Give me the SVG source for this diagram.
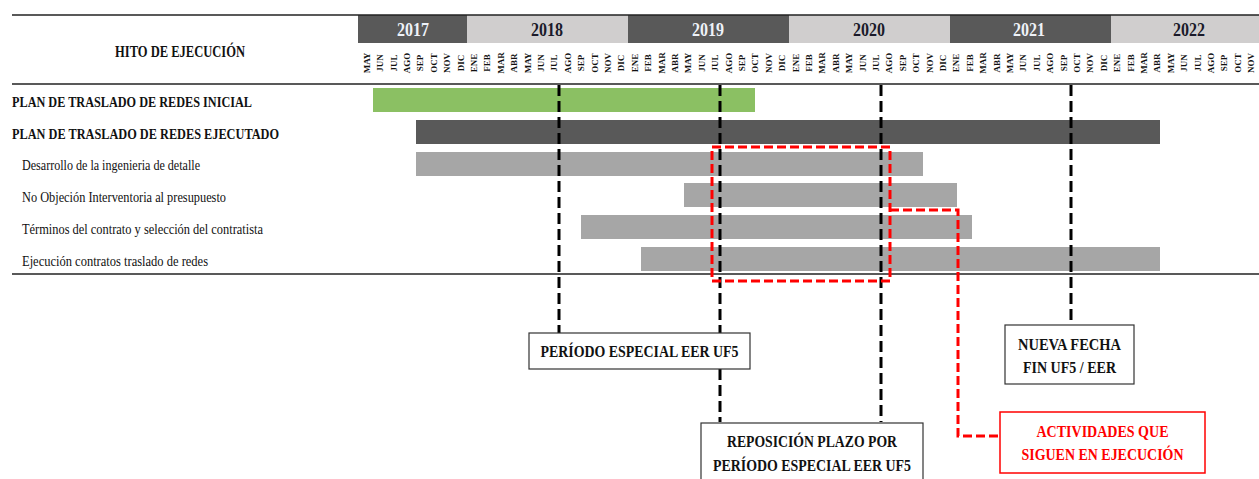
<svg xmlns="http://www.w3.org/2000/svg" width="1259" height="479" viewBox="0 0 1259 479">
<style>
text{font-family:"Liberation Serif","Times New Roman",serif;fill:#111}
.b{font-weight:bold}
.yr{font-size:19px;font-weight:bold;text-anchor:middle}
.yl{fill:#eef2f8}
.yd{fill:#1a1a2a}
.m{font-size:9px;font-weight:bold;text-anchor:middle;dominant-baseline:central}
.hl{stroke:#222;stroke-width:1.5;fill:none}
.lbl{font-size:14px}
.plan{font-size:15px;font-weight:bold}
.box{fill:#fff;stroke:#333;stroke-width:1.2}
.bt{font-size:17px;font-weight:bold;text-anchor:middle}
.kd{stroke:#000;stroke-width:3;stroke-dasharray:11 5;fill:none}
.rd{stroke:#ff0000;stroke-width:3;stroke-dasharray:9 4;fill:none}
.gray{fill:#a6a6a6}
.red{fill:#ff0000}
</style>
<rect width="1259" height="479" fill="#fff"/>
<g id="header">
<rect x="360" y="15" width="107" height="28" fill="#595959"/>
<rect x="467" y="15" width="161" height="28" fill="#d0cece"/>
<rect x="628" y="15" width="161" height="28" fill="#595959"/>
<rect x="789" y="15" width="161" height="28" fill="#d0cece"/>
<rect x="950" y="15" width="161" height="28" fill="#595959"/>
<rect x="1111" y="15" width="160" height="28" fill="#d0cece"/>
<text class="yr yl" x="413" y="36" textLength="32" lengthAdjust="spacingAndGlyphs">2017</text>
<text class="yr yd" x="547" y="36" textLength="32" lengthAdjust="spacingAndGlyphs">2018</text>
<text class="yr yl" x="708" y="36" textLength="32" lengthAdjust="spacingAndGlyphs">2019</text>
<text class="yr yd" x="869" y="36" textLength="32" lengthAdjust="spacingAndGlyphs">2020</text>
<text class="yr yl" x="1029" y="36" textLength="32" lengthAdjust="spacingAndGlyphs">2021</text>
<text class="yr yd" x="1189" y="36" textLength="32" lengthAdjust="spacingAndGlyphs">2022</text>
<line class="hl" x1="12" y1="15" x2="1259" y2="15"/>
<line class="hl" x1="359" y1="15" x2="359" y2="43"/>
<line class="hl" x1="12" y1="84" x2="1259" y2="84"/>
<text class="b" x="180" y="57" font-size="16" text-anchor="middle" textLength="130" lengthAdjust="spacingAndGlyphs">HITO DE EJECUCIÓN</text>
<g id="months">
<text class="m" transform="translate(366.7,63) rotate(-90)">MAY</text>
<text class="m" transform="translate(380.1,63) rotate(-90)">JUN</text>
<text class="m" transform="translate(393.5,63) rotate(-90)">JUL</text>
<text class="m" transform="translate(406.9,63) rotate(-90)">AGO</text>
<text class="m" transform="translate(420.3,63) rotate(-90)">SEP</text>
<text class="m" transform="translate(433.7,63) rotate(-90)">OCT</text>
<text class="m" transform="translate(447.1,63) rotate(-90)">NOV</text>
<text class="m" transform="translate(460.5,63) rotate(-90)">DIC</text>
<text class="m" transform="translate(473.9,63) rotate(-90)">ENE</text>
<text class="m" transform="translate(487.3,63) rotate(-90)">FEB</text>
<text class="m" transform="translate(500.7,63) rotate(-90)">MAR</text>
<text class="m" transform="translate(514.1,63) rotate(-90)">ABR</text>
<text class="m" transform="translate(527.5,63) rotate(-90)">MAY</text>
<text class="m" transform="translate(540.9,63) rotate(-90)">JUN</text>
<text class="m" transform="translate(554.3,63) rotate(-90)">JUL</text>
<text class="m" transform="translate(567.7,63) rotate(-90)">AGO</text>
<text class="m" transform="translate(581.1,63) rotate(-90)">SEP</text>
<text class="m" transform="translate(594.5,63) rotate(-90)">OCT</text>
<text class="m" transform="translate(607.9,63) rotate(-90)">NOV</text>
<text class="m" transform="translate(621.3,63) rotate(-90)">DIC</text>
<text class="m" transform="translate(634.7,63) rotate(-90)">ENE</text>
<text class="m" transform="translate(648.1,63) rotate(-90)">FEB</text>
<text class="m" transform="translate(661.5,63) rotate(-90)">MAR</text>
<text class="m" transform="translate(674.9,63) rotate(-90)">ABR</text>
<text class="m" transform="translate(688.3,63) rotate(-90)">MAY</text>
<text class="m" transform="translate(701.7,63) rotate(-90)">JUN</text>
<text class="m" transform="translate(715.1,63) rotate(-90)">JUL</text>
<text class="m" transform="translate(728.5,63) rotate(-90)">AGO</text>
<text class="m" transform="translate(741.9,63) rotate(-90)">SEP</text>
<text class="m" transform="translate(755.3,63) rotate(-90)">OCT</text>
<text class="m" transform="translate(768.7,63) rotate(-90)">NOV</text>
<text class="m" transform="translate(782.1,63) rotate(-90)">DIC</text>
<text class="m" transform="translate(795.5,63) rotate(-90)">ENE</text>
<text class="m" transform="translate(808.9,63) rotate(-90)">FEB</text>
<text class="m" transform="translate(822.3,63) rotate(-90)">MAR</text>
<text class="m" transform="translate(835.7,63) rotate(-90)">ABR</text>
<text class="m" transform="translate(849.1,63) rotate(-90)">MAY</text>
<text class="m" transform="translate(862.5,63) rotate(-90)">JUN</text>
<text class="m" transform="translate(875.9,63) rotate(-90)">JUL</text>
<text class="m" transform="translate(889.3,63) rotate(-90)">AGO</text>
<text class="m" transform="translate(902.7,63) rotate(-90)">SEP</text>
<text class="m" transform="translate(916.1,63) rotate(-90)">OCT</text>
<text class="m" transform="translate(929.5,63) rotate(-90)">NOV</text>
<text class="m" transform="translate(942.9,63) rotate(-90)">DIC</text>
<text class="m" transform="translate(956.3,63) rotate(-90)">ENE</text>
<text class="m" transform="translate(969.7,63) rotate(-90)">FEB</text>
<text class="m" transform="translate(983.1,63) rotate(-90)">MAR</text>
<text class="m" transform="translate(996.5,63) rotate(-90)">ABR</text>
<text class="m" transform="translate(1009.9,63) rotate(-90)">MAY</text>
<text class="m" transform="translate(1023.3,63) rotate(-90)">JUN</text>
<text class="m" transform="translate(1036.7,63) rotate(-90)">JUL</text>
<text class="m" transform="translate(1050.1,63) rotate(-90)">AGO</text>
<text class="m" transform="translate(1063.5,63) rotate(-90)">SEP</text>
<text class="m" transform="translate(1076.9,63) rotate(-90)">OCT</text>
<text class="m" transform="translate(1090.3,63) rotate(-90)">NOV</text>
<text class="m" transform="translate(1103.7,63) rotate(-90)">DIC</text>
<text class="m" transform="translate(1117.1,63) rotate(-90)">ENE</text>
<text class="m" transform="translate(1130.5,63) rotate(-90)">FEB</text>
<text class="m" transform="translate(1143.9,63) rotate(-90)">MAR</text>
<text class="m" transform="translate(1157.3,63) rotate(-90)">ABR</text>
<text class="m" transform="translate(1170.7,63) rotate(-90)">MAY</text>
<text class="m" transform="translate(1184.1,63) rotate(-90)">JUN</text>
<text class="m" transform="translate(1197.5,63) rotate(-90)">JUL</text>
<text class="m" transform="translate(1210.9,63) rotate(-90)">AGO</text>
<text class="m" transform="translate(1224.3,63) rotate(-90)">SEP</text>
<text class="m" transform="translate(1237.7,63) rotate(-90)">OCT</text>
<text class="m" transform="translate(1251.1,63) rotate(-90)">NOV</text>
</g>
</g>
<g id="row-inicial">
<text class="plan" x="12" y="107" textLength="240" lengthAdjust="spacingAndGlyphs">PLAN DE TRASLADO DE REDES INICIAL</text>
<rect x="373" y="88" width="382" height="24" fill="#8bc063"/>
</g>
<g id="row-ejecutado">
<text class="plan" x="12" y="139" textLength="267" lengthAdjust="spacingAndGlyphs">PLAN DE TRASLADO DE REDES EJECUTADO</text>
<rect x="416" y="120" width="744" height="24" fill="#595959"/>
</g>
<g id="row-ingenieria">
<text class="lbl" x="22" y="170" textLength="178" lengthAdjust="spacingAndGlyphs">Desarrollo de la ingenieria de detalle</text>
<rect class="gray" x="416" y="152" width="507" height="24"/>
</g>
<g id="row-no-objecion">
<text class="lbl" x="22" y="202" textLength="204" lengthAdjust="spacingAndGlyphs">No Objeción Interventoria al presupuesto</text>
<rect class="gray" x="684" y="183" width="273" height="24"/>
</g>
<g id="row-terminos">
<text class="lbl" x="22" y="234" textLength="241" lengthAdjust="spacingAndGlyphs">Términos del contrato y selección del contratista</text>
<rect class="gray" x="581" y="215" width="391" height="24"/>
</g>
<g id="row-ejecucion">
<text class="lbl" x="22" y="266" textLength="186" lengthAdjust="spacingAndGlyphs">Ejecución contratos traslado de redes</text>
<rect class="gray" x="641" y="247" width="519" height="24"/>
</g>
<line class="hl" x1="12" y1="274" x2="1259" y2="274"/>
<g id="connectors">
<line class="kd" x1="559" y1="85" x2="559" y2="333"/>
<line class="kd" x1="720" y1="85" x2="720" y2="333"/>
<line class="kd" x1="720" y1="369" x2="720" y2="422"/>
<line class="kd" x1="881" y1="85" x2="881" y2="422"/>
<line class="kd" x1="1071" y1="85" x2="1071" y2="325"/>
<rect class="rd" x="712" y="147" width="178" height="134"/>
<path class="rd" d="M890 210 H958 V436 H1000"/>
</g>
<g id="box-periodo">
<rect class="box" x="529" y="333" width="221" height="36"/>
<text class="bt" x="639.5" y="357" textLength="198" lengthAdjust="spacingAndGlyphs">PERÍODO ESPECIAL EER UF5</text>
</g>
<g id="box-nueva-fecha">
<rect class="box" x="1005" y="325" width="129" height="59"/>
<text class="bt" x="1069.5" y="350" textLength="103" lengthAdjust="spacingAndGlyphs">NUEVA FECHA</text>
<text class="bt" x="1069.5" y="373" textLength="93" lengthAdjust="spacingAndGlyphs">FIN UF5 / EER</text>
</g>
<g id="box-reposicion">
<rect class="box" x="701" y="423" width="222" height="62"/>
<text class="bt" x="812" y="447" textLength="170" lengthAdjust="spacingAndGlyphs">REPOSICIÓN PLAZO POR</text>
<text class="bt" x="812" y="471" textLength="198" lengthAdjust="spacingAndGlyphs">PERÍODO ESPECIAL EER UF5</text>
</g>
<g id="box-actividades">
<rect x="1000" y="412" width="205" height="61" fill="#fff" stroke="#ff0000" stroke-width="1.5"/>
<text class="bt red" x="1102.5" y="437" textLength="132" lengthAdjust="spacingAndGlyphs">ACTIVIDADES QUE</text>
<text class="bt red" x="1102.5" y="460" textLength="162" lengthAdjust="spacingAndGlyphs">SIGUEN EN EJECUCIÓN</text>
</g>
</svg>
